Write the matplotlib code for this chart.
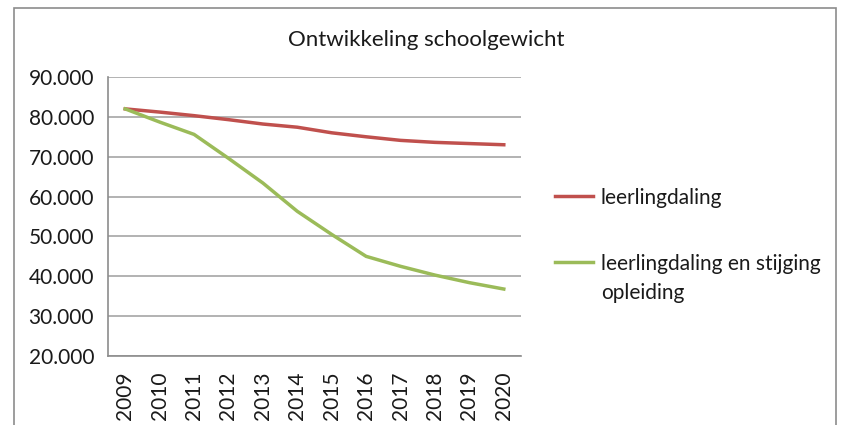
import matplotlib
matplotlib.use("Agg")
import matplotlib.pyplot as plt
from matplotlib.patches import Rectangle
from matplotlib.lines import Line2D

years = ["2009", "2010", "2011", "2012", "2013", "2014", "2015", "2016", "2017", "2018", "2019", "2020"]
leerlingdaling = [82.0, 81.2, 80.3, 79.3, 78.2, 77.4, 76.0, 75.0, 74.1, 73.6, 73.3, 73.0]
met_opleiding = [82.0, 78.7, 75.6, 69.6, 63.4, 56.3, 50.5, 45.0, 42.5, 40.3, 38.4, 36.8]
yticks = [20, 30, 40, 50, 60, 70, 80, 90]
ytick_labels = ["20.000", "30.000", "40.000", "50.000", "60.000", "70.000", "80.000", "90.000"]
series_names = ["leerlingdaling", "leerlingdaling en stijging", "opleiding"]

plt.rcParams['font.family'] = ['Lato', 'DejaVu Sans']

W, H = 841, 425
fig = plt.figure(figsize=(W/100, H/100), dpi=100)
fig.patch.set_facecolor("white")
fig.patches.append(Rectangle((14/W, -0.05), (836-14)/W, 1.05 - 8/H, transform=fig.transFigure,
                             fill=False, edgecolor="#8c8c8c", linewidth=1.2))

ax = fig.add_axes([108/W, 1-356/H, (521-108)/W, (356-77)/H])
x = list(range(len(years)))
red = "#c0504d"
green = "#9bbb59"
ax.plot(x, leerlingdaling, color=red, linewidth=2.5)
ax.plot(x, met_opleiding, color=green, linewidth=2.5)

ax.set_xlim(-0.5, len(years) - 0.5)
ax.set_ylim(20, 90)
ax.set_yticks(yticks)
ax.set_yticklabels(ytick_labels, fontsize=15)
ax.set_xticks(x)
ax.set_xticklabels(years, rotation=90, fontsize=15)
ax.grid(axis="y", color="#a6a6a6", linewidth=1.2)
ax.set_axisbelow(True)
for s in ["top", "right"]:
    ax.spines[s].set_visible(False)
for s in ["left", "bottom"]:
    ax.spines[s].set_color("#8c8c8c")
    ax.spines[s].set_linewidth(1.2)
ax.tick_params(axis="y", length=0, pad=10, colors="#1a1a1a")
ax.tick_params(axis="x", length=0, pad=11, colors="#1a1a1a")

fig.text(426/W, 1-40/H, "Ontwikkeling schoolgewicht", ha="center", va="center", fontsize=16, color="#1a1a1a")

# legend drawn manually
fig.lines.append(Line2D([555/W, 593/W], [1-196/H, 1-196/H], transform=fig.transFigure, color=red, linewidth=2.5))
fig.lines.append(Line2D([555/W, 593/W], [1-262/H, 1-262/H], transform=fig.transFigure, color=green, linewidth=2.5))
fig.text(601/W, 1-196/H, series_names[0], ha="left", va="center_baseline", fontsize=15, color="#1a1a1a")
fig.text(601/W, 1-262/H, series_names[1], ha="left", va="center_baseline", fontsize=15, color="#1a1a1a")
fig.text(601/W, 1-291/H, series_names[2], ha="left", va="center_baseline", fontsize=15, color="#1a1a1a")

fig.savefig("out.png", dpi=100)
